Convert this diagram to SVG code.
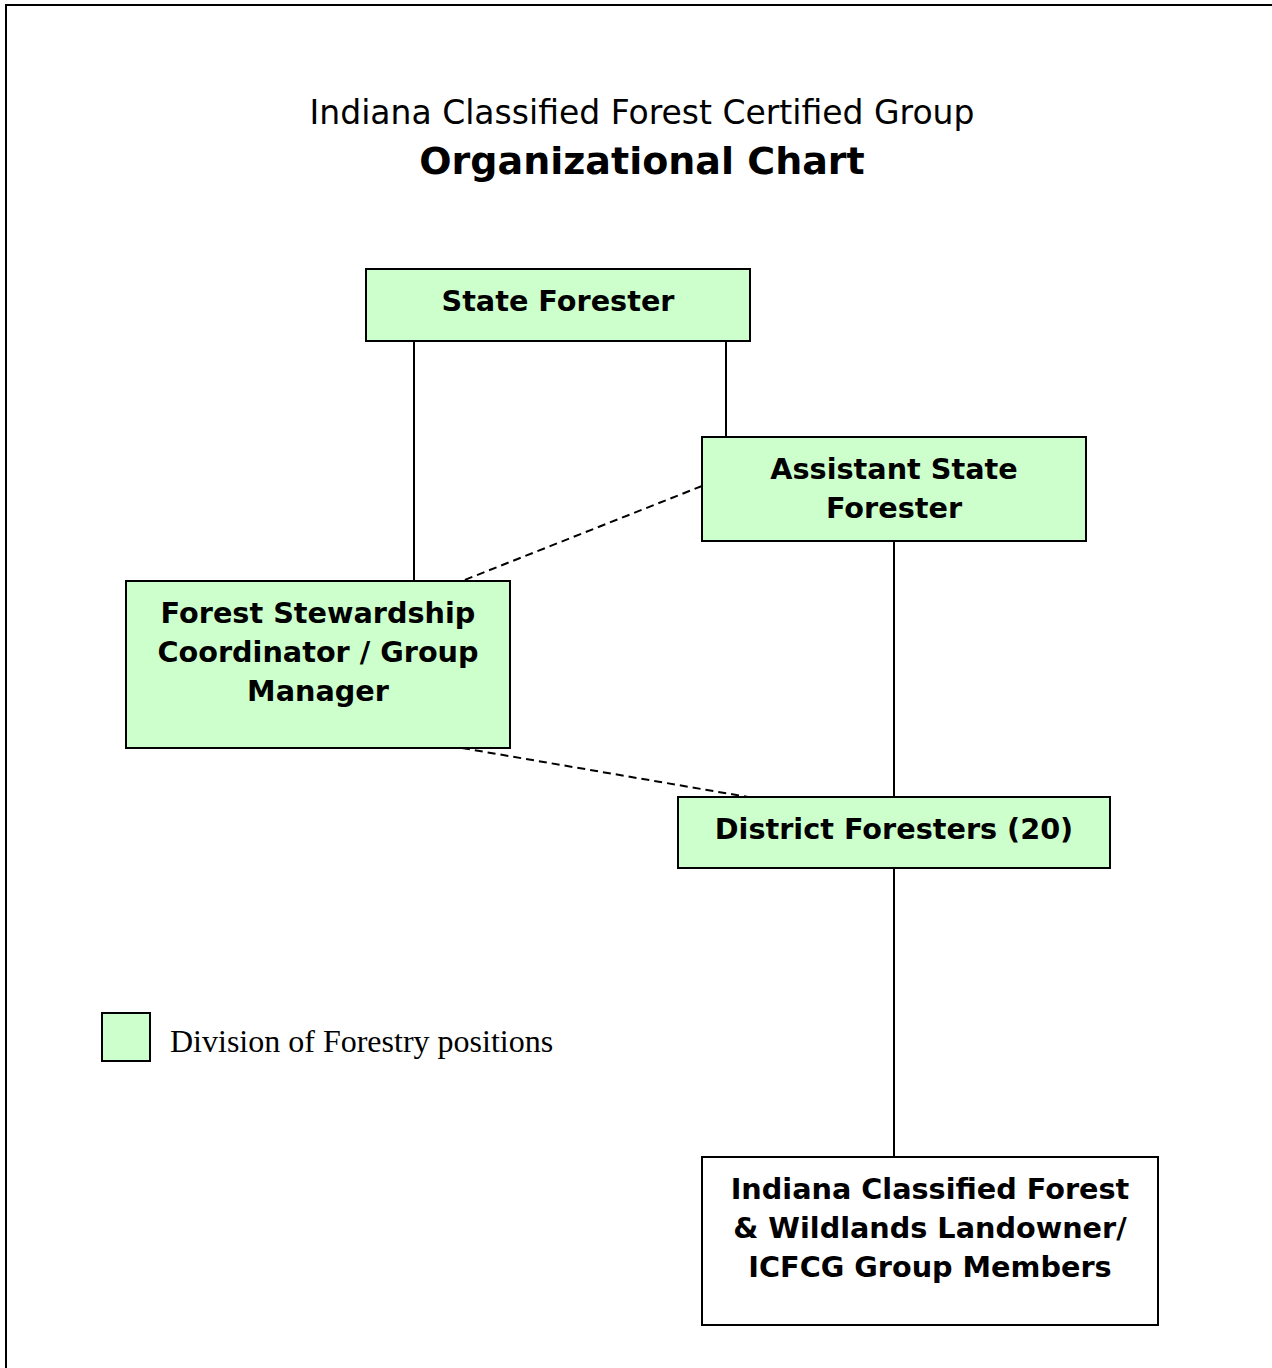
<svg xmlns="http://www.w3.org/2000/svg" width="1272" height="1368" viewBox="0 0 1272 1368">
<style>
.node{fill:#ccffcc;stroke:#000;stroke-width:2}
.white{fill:#fff;stroke:#000;stroke-width:2}
.lbl{font-family:"DejaVu Sans",sans-serif;font-weight:bold;font-size:28.7px;text-anchor:middle;fill:#000}
.solid{stroke:#000;stroke-width:2;fill:none}
.dash{stroke:#000;stroke-width:2;fill:none;stroke-dasharray:8 5}
</style>
<rect x="6" y="5" width="1300" height="1400" fill="#fff" stroke="#000" stroke-width="2"/>
<g id="title">
<text x="642" y="124" style="font-family:'DejaVu Sans',sans-serif;font-size:33px" text-anchor="middle">Indiana Classified Forest Certified Group</text>
<text x="642" y="174" style="font-family:'DejaVu Sans',sans-serif;font-weight:bold;font-size:38px" text-anchor="middle">Organizational Chart</text>
</g>
<g id="connectors">
<line class="solid" x1="414" y1="341" x2="414" y2="581"/>
<line class="solid" x1="726" y1="341" x2="726" y2="437"/>
<line class="dash" x1="702" y1="486" x2="462" y2="581"/>
<line class="solid" x1="894" y1="541" x2="894" y2="797"/>
<line class="dash" x1="462" y1="748" x2="748" y2="797"/>
<line class="solid" x1="894" y1="868" x2="894" y2="1157"/>
</g>
<g id="state-forester">
<rect class="node" x="366" y="269" width="384" height="72"/>
<text class="lbl" x="558" y="311">State Forester</text>
</g>
<g id="assistant-state-forester">
<rect class="node" x="702" y="437" width="384" height="104"/>
<text class="lbl" x="894" y="479">Assistant State</text>
<text class="lbl" x="894" y="518">Forester</text>
</g>
<g id="forest-stewardship">
<rect class="node" x="126" y="581" width="384" height="167"/>
<text class="lbl" x="318" y="623">Forest Stewardship</text>
<text class="lbl" x="318" y="662">Coordinator / Group</text>
<text class="lbl" x="318" y="701">Manager</text>
</g>
<g id="district-foresters">
<rect class="node" x="678" y="797" width="432" height="71"/>
<text class="lbl" x="894" y="839">District Foresters (20)</text>
</g>
<g id="landowners">
<rect class="white" x="702" y="1157" width="456" height="168"/>
<text class="lbl" x="930" y="1199">Indiana Classified Forest</text>
<text class="lbl" x="930" y="1238">&amp; Wildlands Landowner/</text>
<text class="lbl" x="930" y="1277">ICFCG Group Members</text>
</g>
<g id="legend">
<rect class="node" x="102" y="1013" width="48" height="48"/>
<text x="170" y="1052" style="font-family:'Liberation Serif',serif;font-size:32px">Division of Forestry positions</text>
</g>
</svg>
